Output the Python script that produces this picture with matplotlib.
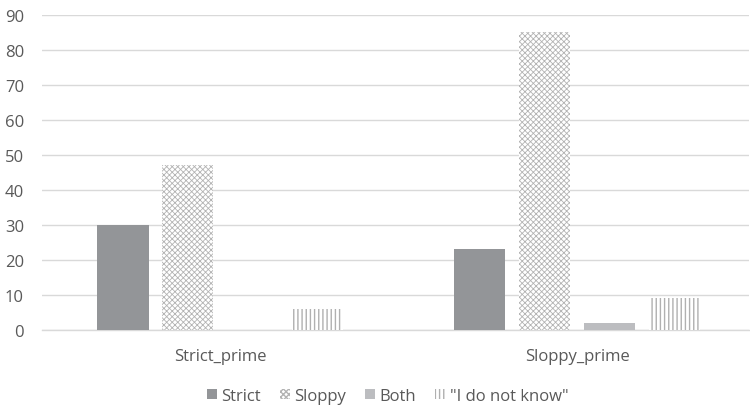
import matplotlib.pyplot as plt
import numpy as np

plt.rcParams['font.family'] = ['Open Sans', 'DejaVu Sans']

categories = ['Strict_prime', 'Sloppy_prime']
series = ['Strict', 'Sloppy', 'Both', '"I do not know"']
strict = [30, 23]
sloppy = [47, 85]
both = [0, 2]
dont_know = [6, 9]

txt = '#595959'
grid = '#d9d9d9'

fig = plt.figure(figsize=(7.5, 4.1), dpi=100)
ax = fig.add_axes([0.056, 0.193, 0.943, 0.768])

x = np.arange(len(categories))
w = 0.143
step = 0.182

plt.rcParams['hatch.linewidth'] = 0.6
plt.rcParams['hatch.color'] = '#b3b3b3'
b1 = ax.bar(x - 1.5*step, strict, w, color='#939598', label=series[0], zorder=3)
b2 = ax.bar(x - 0.5*step, sloppy, w, color='white', edgecolor='#b3b3b3', linewidth=0,
            hatch='xxxxxx', label=series[1], zorder=3)
b3 = ax.bar(x + 0.5*step, both, w, color='#bcbdc0', label=series[2], zorder=3)
plt.rcParams['hatch.linewidth'] = 1.0
plt.rcParams['hatch.color'] = '#b0b0b0'
b4 = ax.bar(x + 1.5*step, dont_know, w, color='white', edgecolor='#b0b0b0', linewidth=0,
            hatch='||||', label=series[3], zorder=3)

ax.set_xlim(-0.5, 1.482)
ax.set_ylim(0, 90)
ax.set_yticks(range(0, 91, 10))
ax.yaxis.grid(True, color=grid, linewidth=1, zorder=0)
ax.set_axisbelow(True)
for s in ['top', 'right', 'left']:
    ax.spines[s].set_visible(False)
ax.spines['bottom'].set_color(grid)
ax.spines['bottom'].set_linewidth(1)
ax.set_xticks(x)
ax.set_xticklabels(categories)
ax.tick_params(axis='both', length=0, colors=txt, labelsize=12)
ax.tick_params(axis='x', pad=13)
ax.tick_params(axis='y', pad=13)

leg = fig.legend(handles=[b1, b2, b3, b4], loc='center', bbox_to_anchor=(0.517, 0.032),
                 ncol=4, frameon=False, fontsize=12, handlelength=0.6, handleheight=0.6,
                 handletextpad=0.25, columnspacing=1.15, labelcolor=txt)

fig.savefig('out.png', dpi=100)
